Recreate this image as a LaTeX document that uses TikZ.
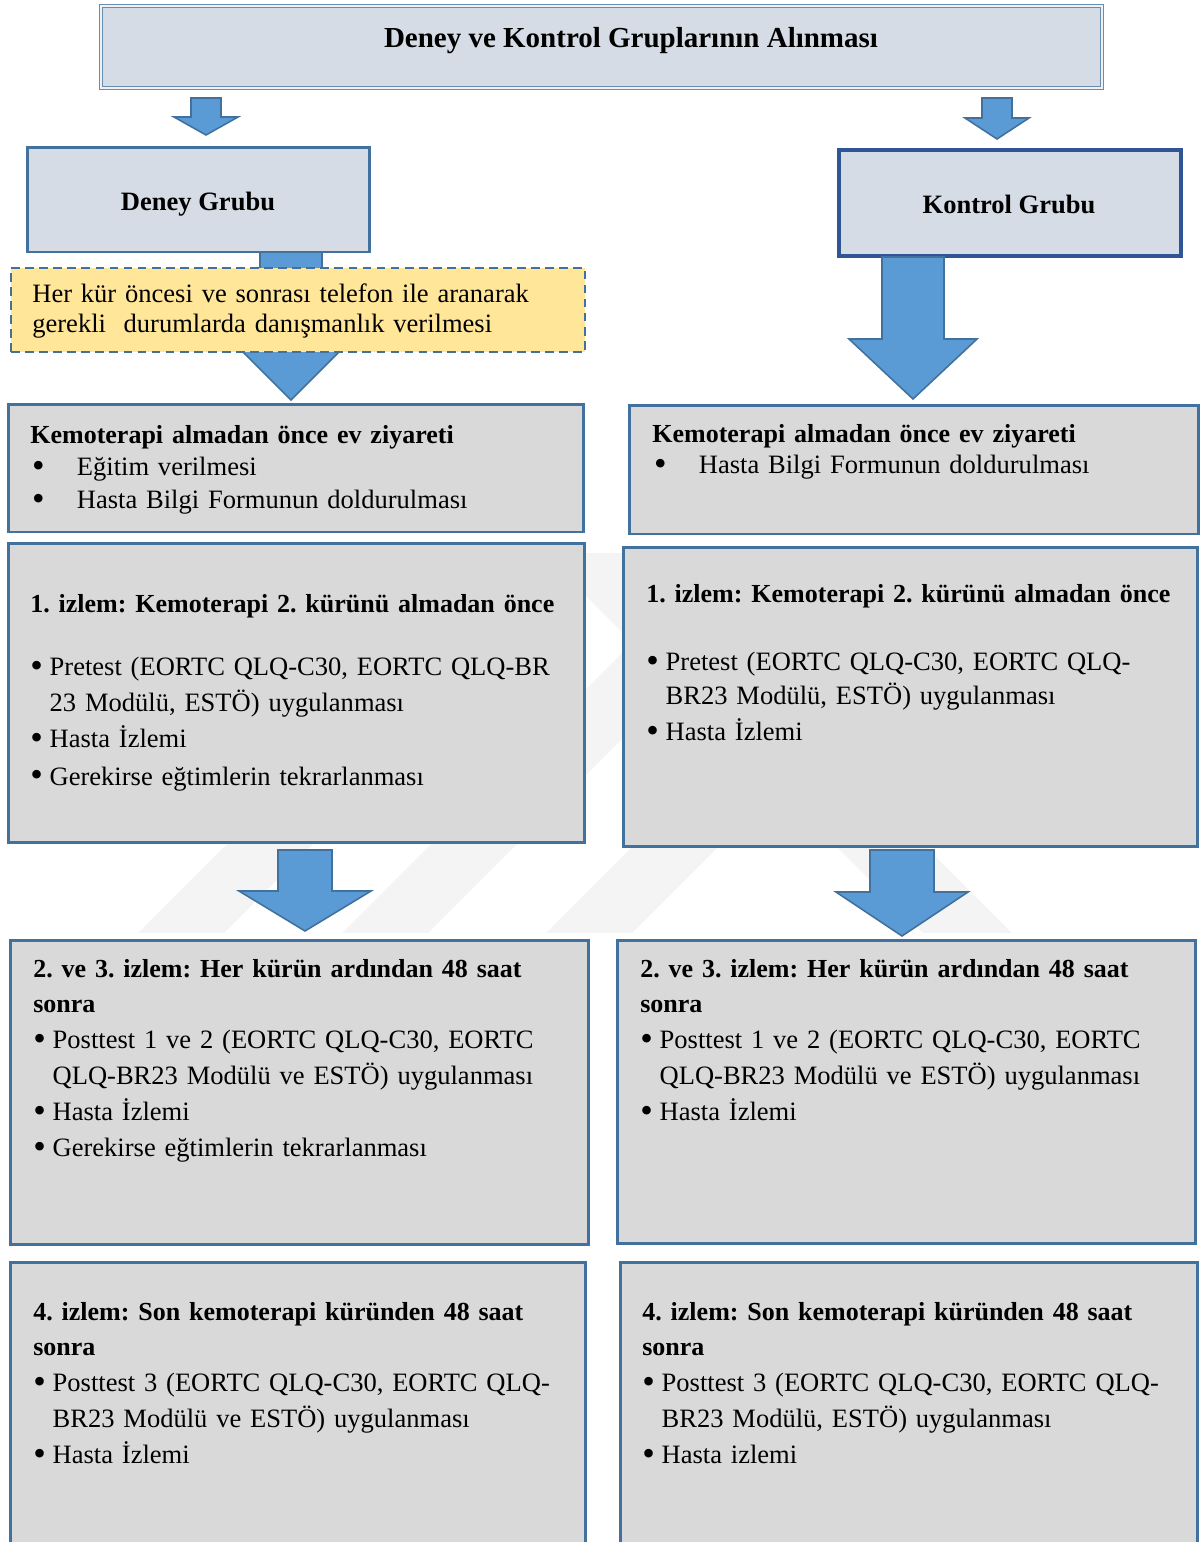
\documentclass[tikz,border=0pt]{standalone}
\usepackage{fontspec}
\usepackage{graphicx}
\setmainfont{Liberation Serif}
\usetikzlibrary{positioning}
\frenchspacing

\definecolor{hdrfill}{HTML}{D6DCE5}
\definecolor{boxfill}{HTML}{D9D9D9}
\definecolor{edgeblue}{HTML}{41719C}
\definecolor{darkblue}{HTML}{2F5597}
\definecolor{arrfill}{HTML}{5B9BD5}
\definecolor{notefill}{HTML}{FFE699}
\definecolor{wmark}{HTML}{F4F4F4}

\tikzset{
  topbox/.style={draw=edgeblue!80, double=white!60!hdrfill, line width=0.7pt,
    double distance=1.2pt, fill=hdrfill},
  grpbox/.style={draw=edgeblue, fill=hdrfill, line width=1.7pt},
  stage/.style={draw=edgeblue, fill=boxfill, line width=1.7pt},
  note/.style={draw=edgeblue, fill=notefill, line width=1.2pt, dash pattern=on 5pt off 3pt},
  txt/.style={anchor=base west, inner sep=0pt, text width=11.2cm, align=left,
    font=\fontsize{15.1}{20.4}\selectfont},
  ttl/.style={anchor=base, inner sep=0pt, font=\bfseries\fontsize{15.1}{20.4}\selectfont},
  arr/.style={draw=edgeblue, fill=arrfill, line width=0.9pt}
}
\newcommand{\hd}[1]{{\bfseries\fontsize{14.8}{20.4}\selectfont #1}}
\newcommand{\bigdot}{\raisebox{-0.07em}{\scalebox{1.35}{\textbullet}}}
\newcommand{\bul}{\makebox[11pt][l]{\bigdot}}
\newcommand{\wbul}{\makebox[26.5pt][l]{\hspace{1pt}\bigdot}}
\newcommand{\ind}{\hspace*{11pt}}
\newcommand{\downarr}[6]{%
  \filldraw[arr] (#1-#5,#2) -- (#1+#5,#2) -- (#1+#5,#3) -- (#1+#6,#3)
    -- (#1,#4) -- (#1-#6,#3) -- (#1-#5,#3) -- cycle;}

\begin{document}
\begin{tikzpicture}[x=0.02cm, y=-0.02cm]
\useasboundingbox (0,0) rectangle (1200,1542);
\clip (0,0) rectangle (1200,1542);

% faint watermark behind the boxes
\foreach \bx in {138,342,546}
  \fill[wmark] (\bx,933) -- (\bx+86,933) -- (\bx+86+380,553) -- (\bx+380,553) -- cycle;
\fill[wmark] (923,933) -- (1012,933) -- (632,553) -- (543,553) -- cycle;

% start
\node[topbox, minimum width=20.02cm, minimum height=1.64cm] (start) at (601.5,47) {};
\node[ttl, font=\bfseries\fontsize{16.5}{20}\selectfont] (startt) at (631,47)
  {Deney ve Kontrol Gruplarının Alınması};

% groups
\node[grpbox, minimum width=6.86cm, minimum height=2.1cm] (deney) at (198.5,199.5) {};
\node[ttl] (deneyt) at (198,210) {Deney Grubu};
\node[grpbox, draw=darkblue, line width=2.1pt, minimum width=6.84cm, minimum height=2.12cm]
  (kontrol) at (1010,203) {};
\node[ttl] (kontrolt) at (1009,213) {Kontrol Grubu};

\downarr{206}{98}{117}{135}{15}{32}
\downarr{997}{98}{118}{139}{15}{32}
\downarr{291}{252}{342}{400}{31}{58}
\downarr{913}{257}{339}{399}{31}{64}

% phone call note
\node[note, minimum width=11.48cm, minimum height=1.68cm] (tel) at (298,310) {};
\node[txt] (telt) at (32,302) {Her kür öncesi ve sonrası telefon ile aranarak\\[-2.8pt]
  gerekli~ durumlarda danışmanlık verilmesi};

% home visit
\node[stage, minimum width=11.52cm, minimum height=2.56cm] (ev1) at (296,468) {};
\node[txt] (ev1t) at (30,443) {\hd{Kemoterapi almadan önce ev ziyareti}\\[-1.7pt]
  \wbul Eğitim verilmesi\\[-1.7pt]
  \wbul Hasta Bilgi Formunun doldurulması};
\node[stage, minimum width=11.4cm, minimum height=2.58cm] (ev2) at (914,469.5) {};
\node[txt] (ev2t) at (652,442) {\hd{Kemoterapi almadan önce ev ziyareti}\\[-2.2pt]
  \wbul Hasta Bilgi Formunun doldurulması};

% 1. izlem
\node[stage, minimum width=11.54cm, minimum height=6cm] (iz1a) at (296.5,693) {};
\node[txt] (iz1at) at (30,612) {\hd{1. izlem: Kemoterapi 2. kürünü almadan önce}\\[15.9pt]
  \bul Pretest (EORTC QLQ-C30, EORTC QLQ-BR\\
  \ind 23 Modülü, ESTÖ) uygulanması\\
  \bul Hasta İzlemi\\[1pt]
  \bul Gerekirse eğtimlerin tekrarlanması};
\node[stage, minimum width=11.5cm, minimum height=6cm] (iz1b) at (910.5,697) {};
\node[txt] (iz1bt) at (646,602) {\hd{1. izlem: Kemoterapi 2. kürünü almadan önce}\\[18.7pt]
  \bul Pretest (EORTC QLQ-C30, EORTC QLQ-\\[-1.1pt]
  \ind BR23 Modülü, ESTÖ) uygulanması\\
  \bul Hasta İzlemi};

\downarr{305}{850}{891}{931}{27}{66}
\downarr{902}{850}{892}{936}{32}{66}

% 2. ve 3. izlem
\node[stage, minimum width=11.58cm, minimum height=6.1cm] (iz2a) at (299.5,1092.5) {};
\node[txt] (iz2at) at (33,977) {\hd{2. ve 3. izlem: Her kürün ardından 48 saat}\\
  \hd{sonra}\\
  \bul Posttest 1 ve 2 (EORTC QLQ-C30, EORTC\\
  \ind QLQ-BR23 Modülü ve ESTÖ) uygulanması\\
  \bul Hasta İzlemi\\
  \bul Gerekirse eğtimlerin tekrarlanması};
\node[stage, minimum width=11.58cm, minimum height=6.08cm] (iz2b) at (906.5,1092) {};
\node[txt] (iz2bt) at (640,977) {\hd{2. ve 3. izlem: Her kürün ardından 48 saat}\\
  \hd{sonra}\\
  \bul Posttest 1 ve 2 (EORTC QLQ-C30, EORTC\\
  \ind QLQ-BR23 Modülü ve ESTÖ) uygulanması\\
  \bul Hasta İzlemi};

% 4. izlem
\node[stage, minimum width=11.52cm, minimum height=5.96cm] (iz4a) at (298,1411) {};
\node[txt] (iz4at) at (33,1320) {\hd{4. izlem: Son kemoterapi küründen 48 saat}\\
  \hd{sonra}\\
  \bul Posttest 3 (EORTC QLQ-C30, EORTC QLQ-\\
  \ind BR23 Modülü ve ESTÖ) uygulanması\\
  \bul Hasta İzlemi};
\node[stage, minimum width=11.56cm, minimum height=5.96cm] (iz4b) at (909,1411) {};
\node[txt] (iz4bt) at (642,1320) {\hd{4. izlem: Son kemoterapi küründen 48 saat}\\
  \hd{sonra}\\
  \bul Posttest 3 (EORTC QLQ-C30, EORTC QLQ-\\
  \ind BR23 Modülü, ESTÖ) uygulanması\\
  \bul Hasta izlemi};
\end{tikzpicture}
\end{document}
